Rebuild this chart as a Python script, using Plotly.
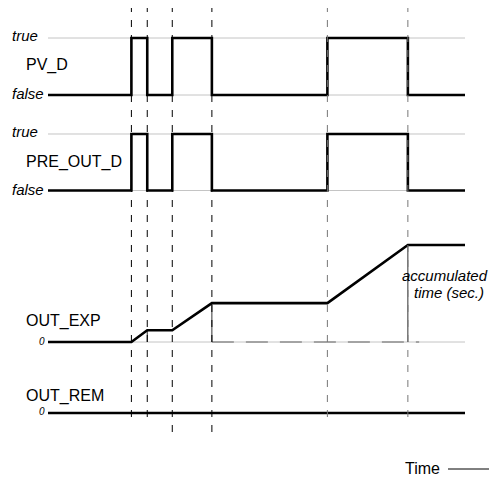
import plotly.graph_objects as go

# the page keeps an 8px body margin and the graph div is clipped to the body
# width, so the figure covers page x 8..489 and y 8..480
PAGE_W, PAGE_H = 497, 480
OFF = 8
W, H = PAGE_W - 2 * OFF, PAGE_H - OFF

# ---- data (time in arbitrary units, 0..100) ----
t_events = [20.0, 23.8, 29.8, 39.3, 67.0, 86.3]
t_end = 100.0

step_t = [0.0, 20.0, 23.8, 29.8, 39.3, 67.0, 86.3, 100.0]
pv_d = [0, 1, 0, 1, 0, 1, 0, 0]
pre_out_d = [0, 1, 0, 1, 0, 1, 0, 0]

exp_t = [0.0, 20.0, 23.8, 29.8, 39.3, 67.0, 86.3, 100.0]
out_exp = [0.0, 0.0, 4.0, 4.0, 13.2, 13.2, 32.9, 32.9]

rem_t = [0.0, 100.0]
out_rem = [0, 0]

# accumulated-time markers under OUT_EXP (end of each pulse)
acc_t = [23.8, 39.3, 86.3]
acc_val = [4.0, 13.2, 32.9]

# ---- geometry helpers (pixel values are page coordinates) ----
X0_PX, PX_PER_T = 48, 4.17


def py(p):
    return 1 - (p - OFF) / H


def pxx(p):
    return (p - OFF) / W


def domain(pa, a, pb, b, r0, r1):
    """y-axis domain so value a sits at page row pa and b at pb."""
    k = (pb - pa) / (b - a)
    lo = pa + (r0 - a) * k
    hi = pa + (r1 - a) * k
    return [py(lo), py(hi)]


FONT = "Liberation Sans, Arial, sans-serif"
BLACK = "#000000"
GRID = "#c4c4c4"

fig = go.Figure()

rows = [
    ("y", pv_d, domain(95, 0, 38, 1, -0.25, 1.25), [-0.25, 1.25]),
    ("y2", pre_out_d, domain(190.5, 0, 134, 1, -0.25, 1.25), [-0.25, 1.25]),
]

for yref, vals, dom, rng in rows:
    for lvl in (0, 1):
        fig.add_trace(go.Scatter(x=[0, t_end], y=[lvl, lvl], mode="lines",
                                 line=dict(color=GRID, width=1),
                                 xaxis="x", yaxis=yref, hoverinfo="skip"))
    fig.add_trace(go.Scatter(x=step_t, y=vals, mode="lines", line_shape="hv",
                             line=dict(color=BLACK, width=2.6),
                             xaxis="x", yaxis=yref, hoverinfo="skip"))

# OUT_EXP
fig.add_trace(go.Scatter(x=[0, t_end], y=[0, 0], mode="lines",
                         line=dict(color=GRID, width=1),
                         xaxis="x", yaxis="y3", hoverinfo="skip"))
fig.add_trace(go.Scatter(x=[39.3, 89.0], y=[0, 0], mode="lines",
                         line=dict(color="#666666", width=1.2, dash="22px,12px"),
                         xaxis="x", yaxis="y3", hoverinfo="skip"))
for t, v in zip(acc_t, acc_val):
    fig.add_trace(go.Scatter(x=[t, t], y=[0, v], mode="lines",
                             line=dict(color="#333333", width=1),
                             xaxis="x", yaxis="y3", hoverinfo="skip"))
fig.add_trace(go.Scatter(x=exp_t, y=out_exp, mode="lines",
                         line=dict(color=BLACK, width=2.6),
                         xaxis="x", yaxis="y3", hoverinfo="skip"))

# OUT_REM
fig.add_trace(go.Scatter(x=rem_t, y=out_rem, mode="lines",
                         line=dict(color=BLACK, width=2.6),
                         xaxis="x", yaxis="y4", hoverinfo="skip"))

# vertical dashed event lines
line_bottom = [422, 422, 440, 440, 422, 422]
line_color = [BLACK, BLACK, BLACK, BLACK, "#777777", "#777777"]
for t, yb, c in zip(t_events, line_bottom, line_color):
    fig.add_shape(type="line", xref="x", yref="paper", x0=t, x1=t,
                  y0=py(5), y1=py(yb),
                  line=dict(color=c, width=1, dash="7px,8px"))

# time arrow at bottom right
fig.add_shape(type="line", xref="paper", yref="paper",
              x0=pxx(448), x1=1, y0=py(469), y1=py(469),
              line=dict(color=BLACK, width=1))


def label(text, x, y, size=16, italic=False, anchor="left"):
    if italic:
        text = "<i>" + text + "</i>"
    fig.add_annotation(text=text, x=pxx(x), y=py(y), xref="paper", yref="paper",
                       xanchor=anchor, yanchor="middle", showarrow=False,
                       font=dict(family=FONT, size=size, color=BLACK))


label("true", 10, 36, 15, True)
label("PV_D", 24, 65)
label("false", 10, 94, 15, True)
label("true", 10, 132, 15, True)
label("PRE_OUT_D", 24, 162)
label("false", 10, 189, 15, True)
label("OUT_EXP", 24, 321)
label("0", 47, 341, 10, True, "right")
label("OUT_REM", 24, 396)
label("0", 47, 411, 10, True, "right")
label("accumulated", 445, 275, 15, True, "center")
label("time (sec.)", 449, 292, 15, True, "center")
label("Time", 403, 468)

ax_off = dict(visible=False, showgrid=False, zeroline=False, fixedrange=True)
fig.update_layout(
    width=W, height=H,
    margin=dict(l=0, r=0, t=0, b=0),
    paper_bgcolor="white", plot_bgcolor="white",
    showlegend=False,
    xaxis=dict(domain=[0, 1],
               range=[-(X0_PX - OFF) / PX_PER_T, (W - (X0_PX - OFF)) / PX_PER_T], **ax_off),
    yaxis=dict(domain=rows[0][2], range=rows[0][3], anchor="x", **ax_off),
    yaxis2=dict(domain=rows[1][2], range=rows[1][3], anchor="x", **ax_off),
    yaxis3=dict(domain=domain(342, 0, 245, 32.9, -3, 36), range=[-3, 36], anchor="x", **ax_off),
    yaxis4=dict(domain=domain(413, 0, 403, 1, -1, 1), range=[-1, 1], anchor="x", **ax_off),
)

fig.write_html("out.html")
